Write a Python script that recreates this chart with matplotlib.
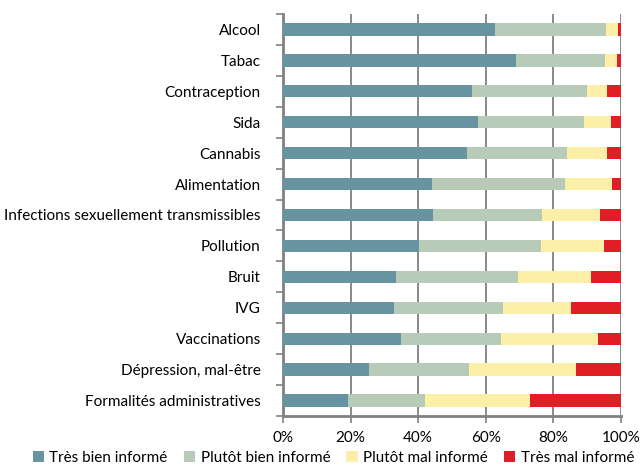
import numpy as np
import matplotlib.pyplot as plt
from matplotlib.ticker import FuncFormatter

# Categories (top to bottom) and shares in %
categories = ["Alcool", "Tabac", "Contraception", "Sida", "Cannabis", "Alimentation",
              "Infections sexuellement transmissibles", "Pollution", "Bruit", "IVG",
              "Vaccinations", "Dépression, mal-être", "Formalités administratives"]
tres_bien = [62.7, 69.0, 55.9, 57.7, 54.4, 44.1, 44.5, 40.2, 33.4, 32.9, 34.9, 25.5, 19.3]
plutot_bien = [32.8, 26.3, 34.0, 31.4, 29.5, 39.3, 32.0, 36.0, 36.2, 32.1, 29.6, 29.5, 22.7]
plutot_mal = [3.6, 3.6, 6.1, 8.0, 12.1, 14.0, 17.2, 18.9, 21.4, 20.3, 28.6, 31.8, 31.0]
tres_mal = [0.9, 1.1, 4.0, 2.9, 4.0, 2.6, 6.3, 4.9, 9.0, 14.7, 6.9, 13.2, 27.0]

series = [("Très bien informé", tres_bien, "#6794a0"),
          ("Plutôt bien informé", plutot_bien, "#b8cbb8"),
          ("Plutôt mal informé", plutot_mal, "#fcf0a8"),
          ("Très mal informé", tres_mal, "#e01e26")]

plt.rcParams['font.family'] = ['Lato', 'DejaVu Sans']

fig = plt.figure(figsize=(6.41, 4.66), dpi=100)
ax = fig.add_axes([0.4415, 0.1073, 0.5273, 0.8627])

y = np.arange(len(categories))
left = np.zeros(len(categories))
for name, vals, color in series:
    ax.barh(y, vals, left=left, height=0.4, color=color, label=name, zorder=3)
    left += np.array(vals)

ax.set_xlim(0, 100)
ax.set_ylim(len(categories) - 0.5, -0.5)
ax.set_xticks(np.arange(0, 101, 20))
ax.xaxis.set_major_formatter(FuncFormatter(lambda v, p: f"{v:.0f}%"))
ax.set_yticks(y)
ax.set_yticklabels(categories)
ax.set_yticks(np.arange(-0.5, len(categories), 1), minor=True)
ax.tick_params(axis='y', which='major', length=0, pad=16, labelsize=11)
ax.tick_params(axis='y', which='minor', length=5, width=1.2, color="#808080")
ax.tick_params(axis='x', length=5, width=1.2, color="#808080", labelsize=11, pad=6)

ax.grid(axis='x', color="#808080", linewidth=1.3, zorder=0)
for s in ["top", "right"]:
    ax.spines[s].set_visible(False)
for s in ["left", "bottom"]:
    ax.spines[s].set_color("#808080")
    ax.spines[s].set_linewidth(2)

fig.legend(loc="lower center", ncol=4, frameon=False, bbox_to_anchor=(0.52, -0.024),
           handlelength=0.75, handleheight=0.75, handletextpad=0.35, columnspacing=1.05,
           fontsize=11, borderpad=0.3)

fig.savefig("out.png", dpi=100)
